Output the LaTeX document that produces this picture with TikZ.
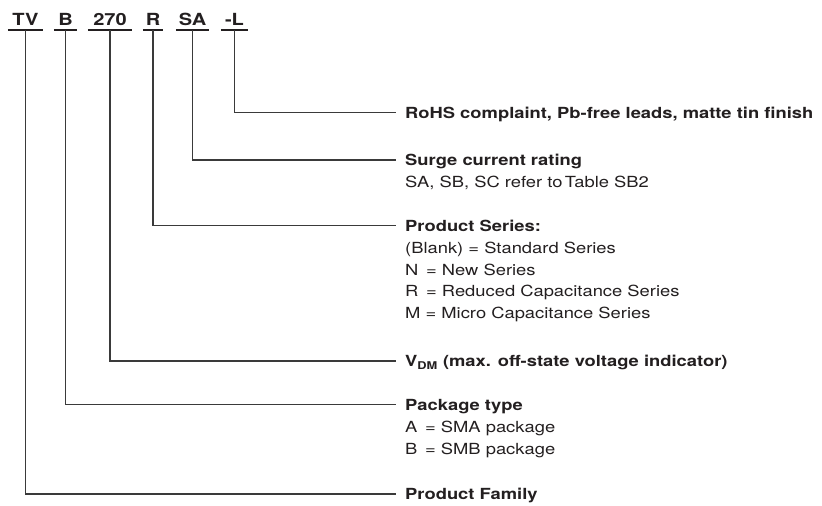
\documentclass[tikz,border=0pt]{standalone}
\usepackage{fontspec}
\setmainfont{TeX Gyre Heros}[FakeStretch=1.2]
\usetikzlibrary{positioning}
\definecolor{PNInk}{HTML}{231F20}
\definecolor{PNLine}{HTML}{3A3A3A}

\begin{document}
\begin{tikzpicture}[x=1pt,y=-1pt,>=stealth]
  \tikzstyle{code}=[anchor=south,inner xsep=0pt,inner ysep=4.5pt,
    text depth=0pt,text=PNInk,font=\fontsize{16.7}{20}\selectfont\bfseries]
  \tikzstyle{title}=[anchor=west,inner xsep=9pt,inner ysep=0pt,
    text height=11pt,text depth=0pt,text=PNInk,
    font=\fontsize{15.3}{21.6}\selectfont\bfseries]
  \tikzstyle{detail}=[anchor=base west,inner xsep=9pt,inner ysep=0pt,
    align=left,text=PNInk,font=\fontsize{15.3}{21.6}\selectfont]
  \tikzstyle{uline}=[line width=2.2pt,draw=PNInk]
  \tikzstyle{lead}=[line width=1.3pt,draw=PNLine]
  \useasboundingbox (0,0) rectangle (822,506);
  % part number
  \node[code,minimum width=35pt] (tv) at (25.5,30) {TV};
  \node[code,minimum width=23pt] (pkg) at (65.5,30) {B};
  \node[code,minimum width=44pt] (volt) at (110,30) {270};
  \node[code,minimum width=20pt] (ser) at (153,30) {R};
  \node[code,minimum width=33pt] (surge) at (192.5,30) {SA};
  \node[code,minimum width=27pt] (lead) at (234.5,30) {-L};
  \foreach \n in {tv,pkg,volt,ser,surge,lead}
    \draw[uline] (\n.south west) -- (\n.south east);
  % descriptions (detail nodes sit on their last baseline)
  \node[title] (rohs) at (396,112.7) {RoHS complaint, Pb-free leads, matte tin finish};
  \node[title] (surget) at (396,160) {Surge current rating};
  \node[detail] (surged) at (396,187.5) {SA, SB, SC refer to\,Table SB2};
  \node[title] (sert) at (396,225.5) {Product Series:};
  \node[detail] (serd) at (396,318.5) {(Blank) = Standard Series\\N\, = New Series\\
    R\, = Reduced Capacitance Series\\M = Micro Capacitance Series};
  \node[title] (voltt) at (396,361) {V\textsubscript{DM} (max. off-state voltage indicator)};
  \node[title] (pkgt) at (396,404.5) {Package type};
  \node[detail] (pkgd) at (396,454.5) {A\, = SMA package\\B\, = SMB package};
  \node[title] (family) at (396,494) {Product Family};
  % leaders
  \draw[lead] (lead.south) |- (rohs.west);
  \draw[lead] (surge.south) |- (surget.west);
  \draw[lead] (ser.south) |- (sert.west);
  \draw[lead] (volt.south) |- (voltt.west);
  \draw[lead] (pkg.south) |- (pkgt.west);
  \draw[lead] (tv.south) |- (family.west);
\end{tikzpicture}
\end{document}
